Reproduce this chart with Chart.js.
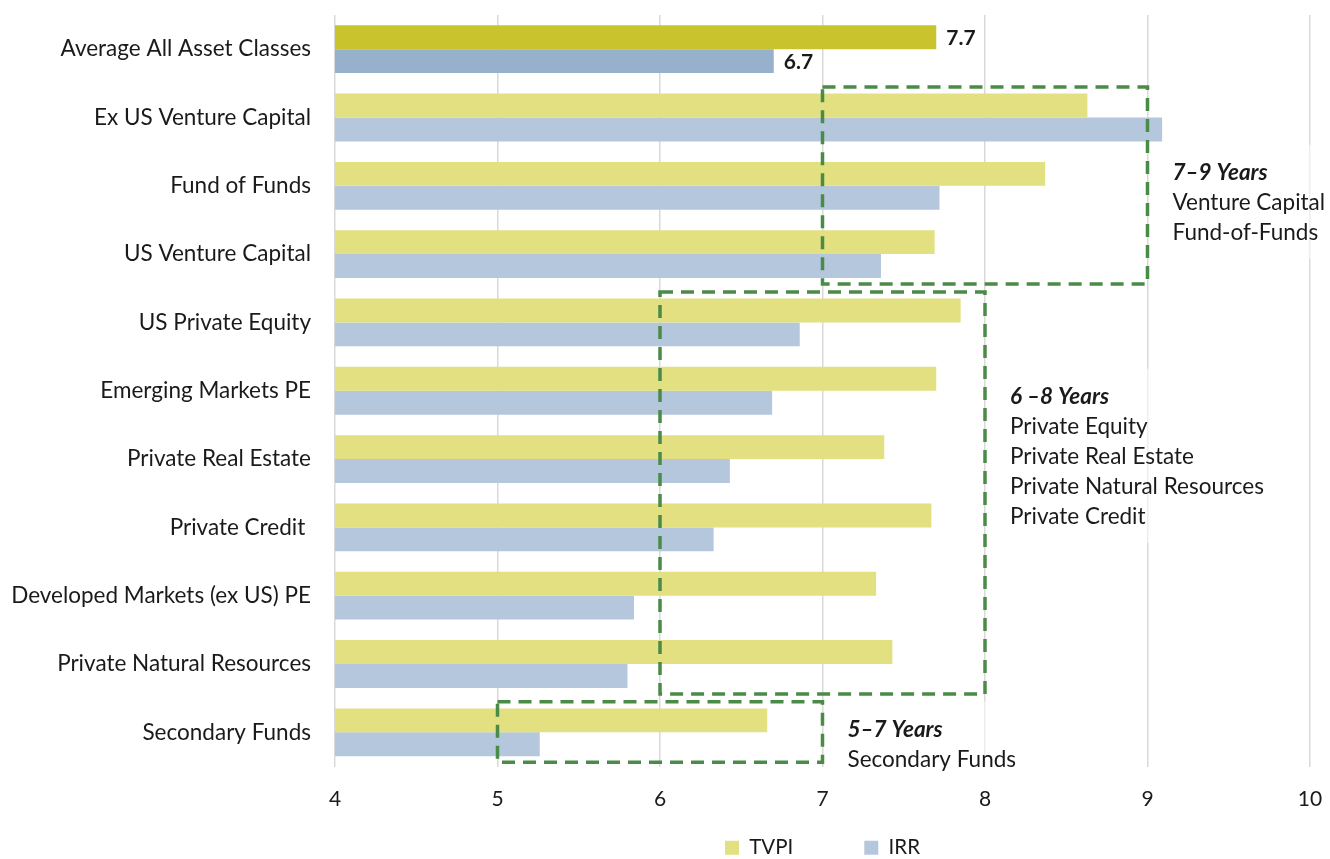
<!DOCTYPE html>
<html>
<head>
<meta charset="utf-8">
<title>Holding periods by asset class</title>
<script src="https://cdn.jsdelivr.net/npm/chart.js@4.4.1/dist/chart.umd.min.js"></script>
<style>
  html, body { margin: 0; padding: 0; background: #ffffff; }
  canvas { display: block; }
</style>
</head>
<body>
<canvas id="chart" width="1330" height="859"></canvas>
<script>
// Asset classes, top to bottom
const categories = [
  'Average All Asset Classes',
  'Ex US Venture Capital',
  'Fund of Funds',
  'US Venture Capital',
  'US Private Equity',
  'Emerging Markets PE',
  'Private Real Estate',
  'Private Credit ',
  'Developed Markets (ex US) PE',
  'Private Natural Resources',
  'Secondary Funds'
];

// Years to reach the measure, per asset class
const tvpiValues = [7.7, 8.63, 8.37, 7.69, 7.85, 7.70, 7.38, 7.67, 7.33, 7.43, 6.66];
const irrValues  = [6.7, 9.09, 7.72, 7.36, 6.86, 6.69, 6.43, 6.33, 5.84, 5.80, 5.26];

// Axis ticks
const xTickValues = [4, 5, 6, 7, 8, 9, 10];

// Holding-period bands: value range and first/last asset class covered
const bandTitles = ['7–9 Years', '6 –8 Years', '5–7 Years'];
const bandLines = [
  ['Venture Capital', 'Fund-of-Funds'],
  ['Private Equity', 'Private Real Estate', 'Private Natural Resources', 'Private Credit'],
  ['Secondary Funds']
];
const bandFrom = [7, 6, 5];
const bandTo = [9, 8, 7];
const bandFirstCat = [1, 4, 10];
const bandLastCat = [3, 9, 10];

// ---- styling ----
const FONT = 'Lato, "Noto Sans", sans-serif';
const FONT_SIZE = 22.5;
const LINE_GAP = 30;
const TEXT = '#1a1a1a';
const tvpiColors = categories.map((c, i) => i === 0 ? '#c9c42e' : '#e2e081');
const irrColors = categories.map((c, i) => i === 0 ? '#97b0cc' : '#b4c7dc');
// where each band's caption starts (category index of the title line, pixel nudge)
const bandTextAnchor = [{ cat: 2, dy: -13 }, { cat: 5, dy: 6 }, { cat: 10, dy: -3 }];

// Value labels for the average row
const averageLabels = {
  id: 'averageLabels',
  afterDatasetsDraw(chart) {
    const ctx = chart.ctx;
    ctx.save();
    ctx.font = 'bold 21px ' + FONT;
    ctx.fillStyle = TEXT;
    ctx.textAlign = 'left';
    ctx.textBaseline = 'middle';
    chart.data.datasets.forEach((ds, d) => {
      const bar = chart.getDatasetMeta(d).data[0];
      ctx.fillText(ds.data[0].toFixed(1), bar.x + 10, bar.y + 1);
    });
    ctx.restore();
  }
};

// Dashed holding-period boxes with captions on a light text panel
const holdingBands = {
  id: 'holdingBands',
  afterDatasetsDraw(chart) {
    const ctx = chart.ctx;
    const x = chart.scales.x;
    const y = chart.scales.y;
    ctx.save();
    bandTitles.forEach((title, b) => {
      const left = x.getPixelForValue(bandFrom[b]);
      const right = x.getPixelForValue(bandTo[b]);
      const top = y.getPixelForValue(bandFirstCat[b]) - 30.5;
      const bottom = y.getPixelForValue(bandLastCat[b]) + 30;

      // caption panel
      const tx = right + 25;
      const ty0 = y.getPixelForValue(bandTextAnchor[b].cat) + bandTextAnchor[b].dy;
      ctx.font = FONT_SIZE + 'px ' + FONT;
      const widest = Math.max(...bandLines[b].map(l => ctx.measureText(l).width));
      const panelTop = ty0 - 28;
      const panelBottom = ty0 + bandLines[b].length * LINE_GAP + 26;
      ctx.fillStyle = 'rgba(255,255,255,0.55)';
      ctx.fillRect(tx - 10, panelTop, widest + 20, panelBottom - panelTop);

      // dashed outline
      ctx.strokeStyle = '#4b8b48';
      ctx.lineWidth = 3.5;
      ctx.setLineDash([13, 8]);
      ctx.strokeRect(left, top, right - left, bottom - top);
      ctx.setLineDash([]);

      // caption text
      let ty = ty0;
      ctx.fillStyle = TEXT;
      ctx.textAlign = 'left';
      ctx.textBaseline = 'middle';
      ctx.font = 'italic bold ' + FONT_SIZE + 'px ' + FONT;
      ctx.fillText(title, tx, ty);
      ctx.font = FONT_SIZE + 'px ' + FONT;
      bandLines[b].forEach((line) => {
        ty += LINE_GAP;
        ctx.fillText(line, tx, ty);
      });
    });
    ctx.restore();
  }
};

new Chart(document.getElementById('chart'), {
  type: 'bar',
  data: {
    labels: categories,
    datasets: [
      { label: 'TVPI', data: tvpiValues, backgroundColor: tvpiColors },
      { label: 'IRR', data: irrValues, backgroundColor: irrColors }
    ]
  },
  options: {
    indexAxis: 'y',
    responsive: false,
    animation: false,
    devicePixelRatio: 1,
    datasets: { bar: { barPercentage: 1, categoryPercentage: 0.7 } },
    layout: { padding: { top: 15, right: 20, left: 0, bottom: -9 } },
    scales: {
      x: {
        type: 'linear',
        min: 4,
        max: 10,
        afterBuildTicks(scale) { scale.ticks = xTickValues.map(v => ({ value: v })); },
        // tick labels hang below the plot; the legend row follows straight after it
        afterFit(scale) {
          scale.height = 0;
          scale.paddingLeft = 0;
          scale.paddingRight = 0;
        },
        grid: { color: '#d9d9d9', lineWidth: 1.5, drawTicks: false },
        border: { display: false },
        ticks: { font: { family: FONT, size: 21 }, color: TEXT, mirror: true, padding: -45 }
      },
      y: {
        afterFit(scale) {
          scale.width = 335;
          scale.paddingTop = 0;
          scale.paddingBottom = 0;
        },
        grid: { display: false, drawTicks: false },
        border: { display: false },
        ticks: { font: { family: FONT, size: FONT_SIZE }, color: TEXT, padding: 24 }
      }
    },
    plugins: {
      legend: {
        position: 'bottom',
        fullSize: false,
        labels: {
          boxWidth: 14,
          boxHeight: 14,
          padding: 71,
          color: TEXT,
          font: { family: FONT, size: 20.5 },
          generateLabels(chart) {
            return chart.data.datasets.map((ds, i) => ({
              text: ds.label,
              fillStyle: i === 0 ? '#e2e081' : '#b4c7dc',
              strokeStyle: 'rgba(0,0,0,0)',
              lineWidth: 0,
              datasetIndex: i,
              fontColor: TEXT
            }));
          }
        }
      },
      tooltip: { enabled: false }
    }
  },
  plugins: [averageLabels, holdingBands]
});
</script>
</body>
</html>
